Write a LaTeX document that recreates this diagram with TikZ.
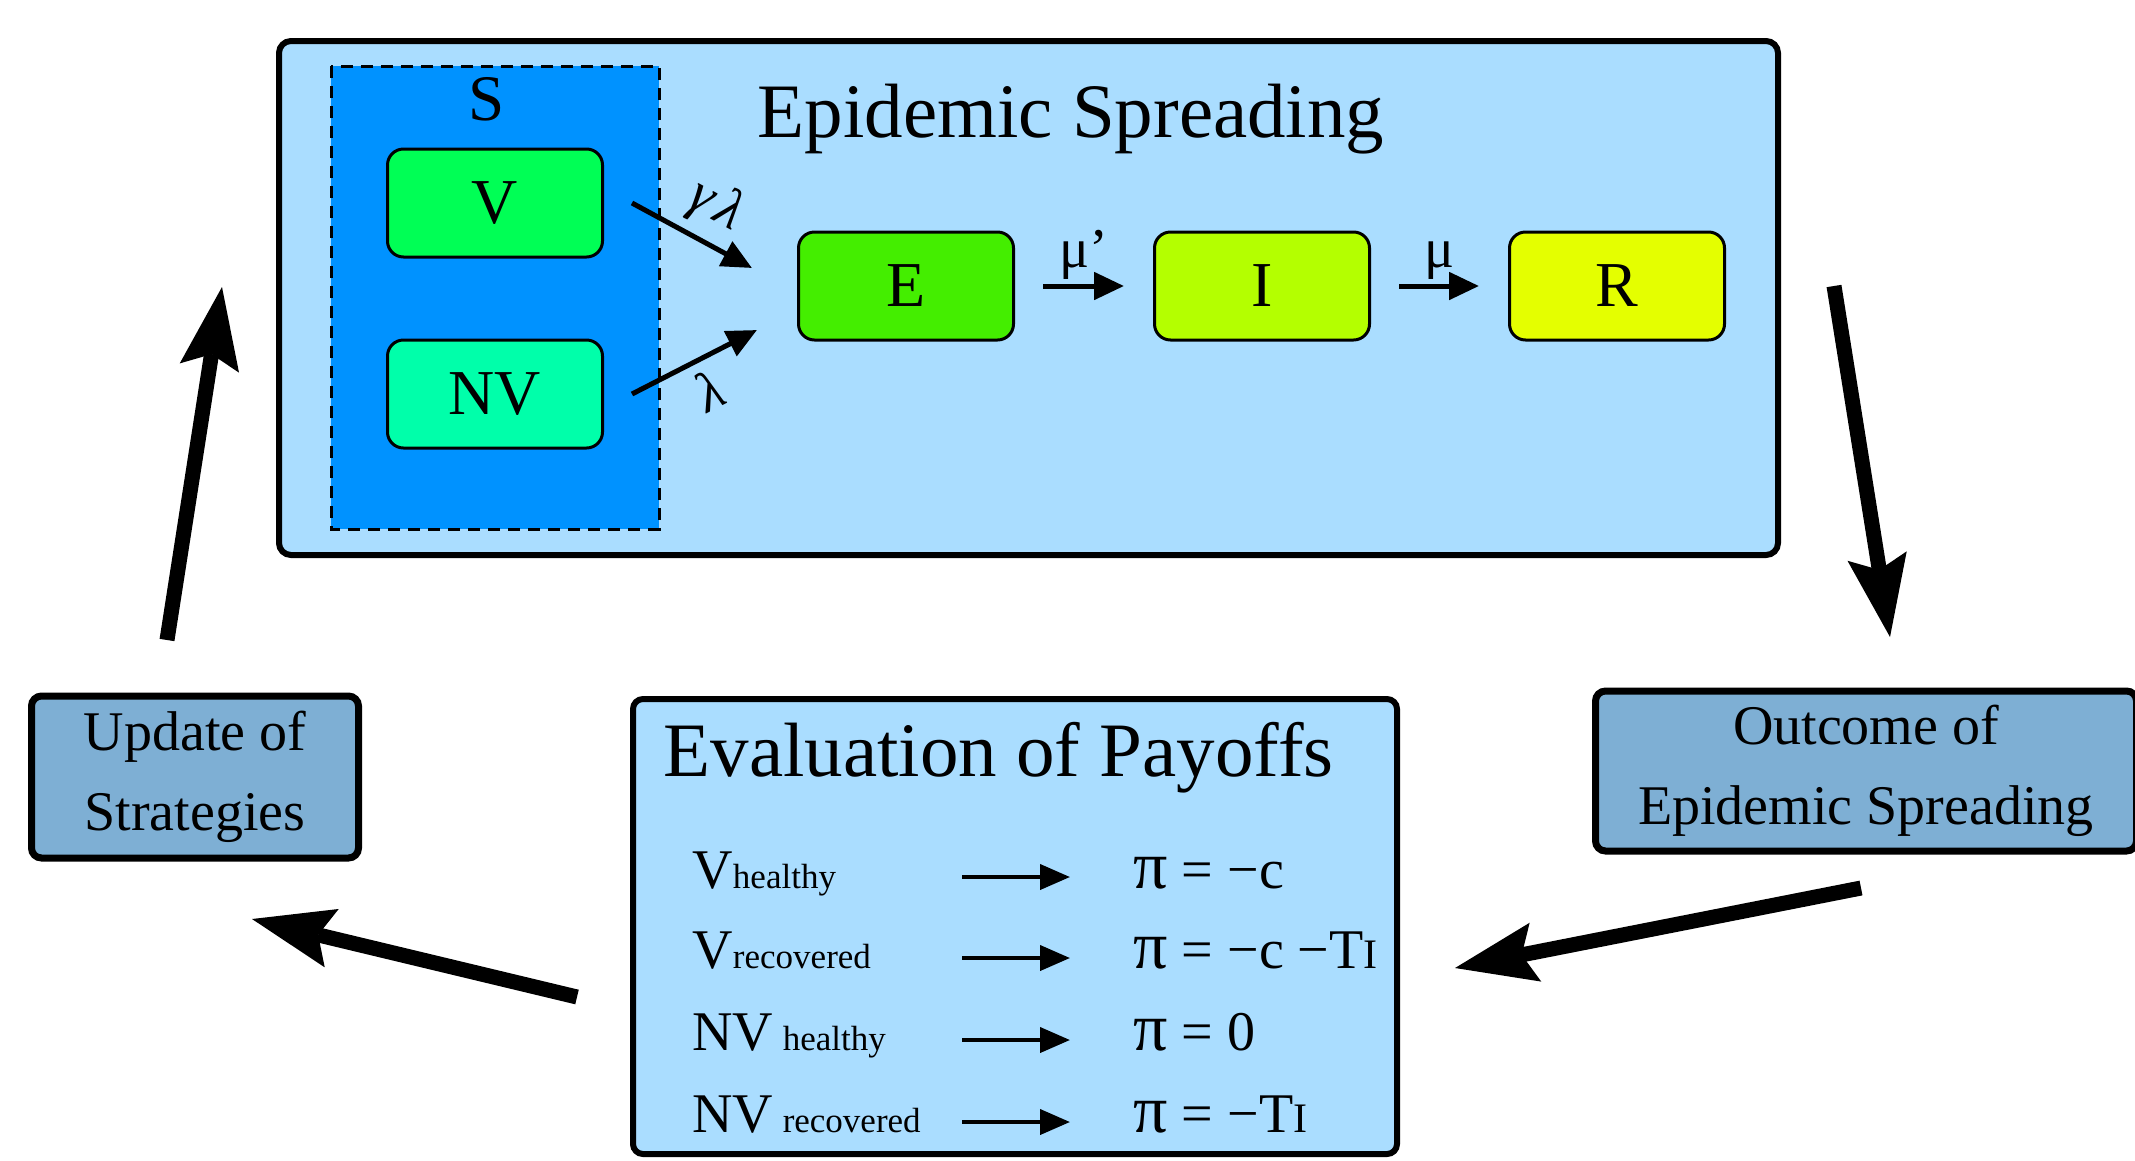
\documentclass[tikz,border=0pt]{standalone}
\usepackage{fontspec}
\setmainfont{Liberation Serif}
\usepackage{tikz}
\usetikzlibrary{arrows.meta, calc}
\definecolor{panelblue}{RGB}{170, 221, 255}
\definecolor{groupblue}{RGB}{0, 146, 255}
\definecolor{vgreen}{RGB}{0, 255, 85}
\definecolor{nvgreen}{RGB}{0, 255, 170}
\definecolor{egreen}{RGB}{68, 238, 0}
\definecolor{igreen}{RGB}{180, 255, 0}
\definecolor{ryellow}{RGB}{228, 255, 0}
\definecolor{steelbox}{RGB}{126, 175, 212}
\newcommand{\pxfont}[1]{\fontsize{#1}{#1}\selectfont}
\newcommand{\subtxt}[1]{{\pxfont{35}#1}}

\begin{document}
\begin{tikzpicture}[x=1pt, y=-1pt,
		box/.style={draw, line width=3pt, rounded corners=16pt, minimum width=215pt, minimum height=108pt, inner sep=0pt, font=\pxfont{64}},
		panel/.style={draw, line width=7pt, rounded corners=10pt, fill=steelbox, align=center, inner sep=0pt, font=\fontsize{56}{80}\selectfont},
		flow/.style={line width=5pt, -{Triangle[length=30pt, width=27pt]}},
		pay/.style={line width=4pt, -{Triangle[length=30pt, width=25pt]}},
		bigarrow/.style={line width=15pt, -{Stealth[length=82pt, width=60pt, inset=14pt, line width=0pt]}},
		rate/.style={font=\pxfont{56}, inner sep=2pt}]
			\clip (0,0) rectangle (2135,1160);
			
			% Epidemic Spreading panel
			\draw[line width=6pt, rounded corners=12pt, fill=panelblue] (279,41) rectangle (1778,555);
			\node[anchor=base, font=\pxfont{77}] (title) at (1071,137) {Epidemic Spreading};
			
			% Susceptible group
			\draw[line width=3pt, dash pattern=on 12pt off 8pt, fill=groupblue] (331,66) rectangle (659,529);
			\node[anchor=base, font=\pxfont{65}] (S) at (487,120) {S};
			\node[box, fill=vgreen] (V) at (495,203) {V};
			\node[box, fill=nvgreen] (NV) at (495,394) {NV};
			
			% Compartments
			\node[box, fill=egreen] (E) at (906,286) {E};
			\node[box, fill=igreen] (I) at (1262,286) {I};
			\node[box, fill=ryellow] (R) at (1617,286) {R};
			
			% Transitions
			\draw[flow] ($(V.east)+(28,0)$) -- ($(E.west)+(-45,-18)$) node[rate, pos=0.55, above=7pt, sloped] {\textit{γ\kern7ptλ}};
			\draw[flow] ($(NV.east)+(28,0)$) -- ($(E.west)+(-40,44)$) node[rate, pos=0.5, below=8pt, sloped] {\textit{λ}};
			\draw[flow, shorten <=28pt, shorten >=29pt] (E) -- (I) node[rate, midway, above=2pt] {μ'};
			\draw[flow, shorten <=28pt, shorten >=29pt] (I) -- (R) node[rate, midway, above=2pt] {μ};
			
			% Outcome and update boxes
			\node[panel, minimum width=541pt, minimum height=160pt] (out) at (1866,771) {Outcome of\\Epidemic Spreading};
			\node[panel, minimum width=327pt, minimum height=162pt] (upd) at (195,777) {Update of\\Strategies};
			
			% Evaluation of Payoffs
			\draw[line width=6pt, rounded corners=10pt, fill=panelblue] (633,699) rectangle (1397,1154);
			\node[anchor=base west, font=\pxfont{77}] (eval) at (660,776) {Evaluation of Payoffs};
			\node[anchor=base west, font=\pxfont{56}] (l1) at (689,888) {V\subtxt{healthy}};
			\node[anchor=base west, font=\pxfont{56}] (l2) at (689,968) {V\subtxt{recovered}};
			\node[anchor=base west, font=\pxfont{56}] (l3) at (689,1050) {NV\,\subtxt{healthy}};
			\node[anchor=base west, font=\pxfont{56}] (l4) at (689,1132) {NV\,\subtxt{recovered}};
			\node[anchor=base west, font=\pxfont{56}] (r1) at (1130,888) {{\pxfont{68}π} = −c};
			\node[anchor=base west, font=\pxfont{56}] (r2) at (1130,968) {{\pxfont{68}π} = −c −T{\pxfont{42}I}};
			\node[anchor=base west, font=\pxfont{56}] (r3) at (1130,1050) {{\pxfont{68}π} = 0};
			\node[anchor=base west, font=\pxfont{56}] (r4) at (1130,1132) {{\pxfont{68}π} = −T{\pxfont{42}I}};
			\coordinate (a1) at (962,877); \coordinate (b1) at (1070,877);
			\coordinate (a2) at (962,958); \coordinate (b2) at (1070,958);
			\coordinate (a3) at (962,1040); \coordinate (b3) at (1070,1040);
			\coordinate (a4) at (962,1122); \coordinate (b4) at (1070,1122);
			\draw[pay] (a1) -- (b1);
			\draw[pay] (a2) -- (b2);
			\draw[pay] (a3) -- (b3);
			\draw[pay] (a4) -- (b4);
			
			% Cycle
			\coordinate (updTop) at (167,640);
			\coordinate (spreadIn) at (222,287);
			\coordinate (spreadOut) at (1834,286);
			\coordinate (outTop) at (1890,637);
			\coordinate (outLeft) at (1861,888);
			\coordinate (evalRight) at (1455,968);
			\coordinate (evalLeft) at (577,997);
			\coordinate (updRight) at (252,919);
			\draw[bigarrow] (updTop) -- (spreadIn);
			\draw[bigarrow] (spreadOut) -- (outTop);
			\draw[bigarrow] (outLeft) -- (evalRight);
			\draw[bigarrow] (evalLeft) -- (updRight);
		\end{tikzpicture}
\end{document}
